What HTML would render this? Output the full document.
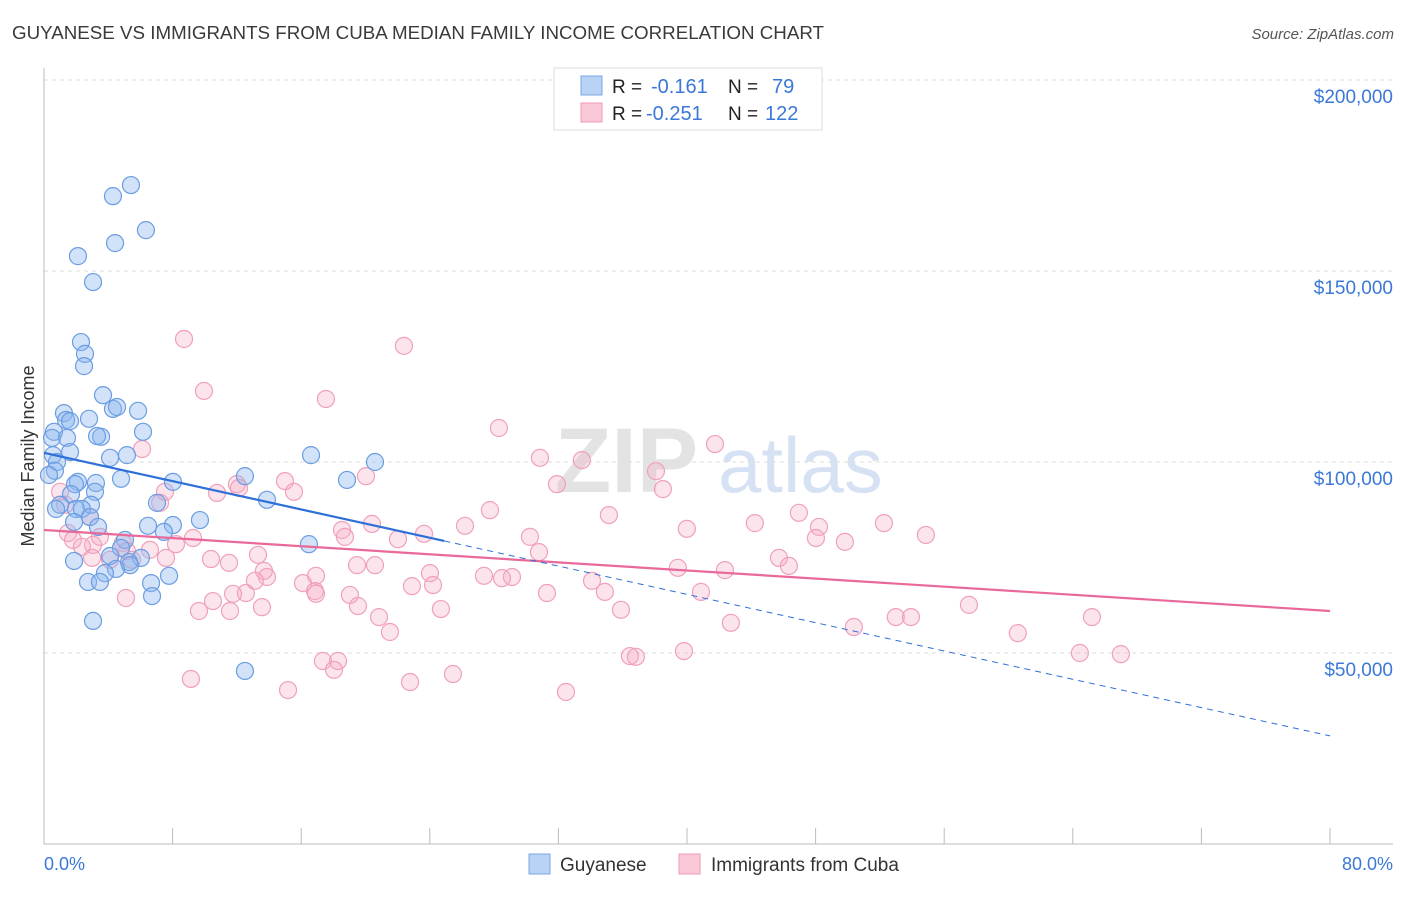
<!DOCTYPE html>
<html><head><meta charset="utf-8"><style>
body{margin:0;background:#fff;font-family:"Liberation Sans",sans-serif}
svg text{font-family:"Liberation Sans",sans-serif}
</style></head><body>
<svg id="chart" width="1406" height="892" xmlns="http://www.w3.org/2000/svg">
<text x="12" y="39" font-size="18" fill="#3a3a3a" textLength="812" lengthAdjust="spacingAndGlyphs">GUYANESE VS IMMIGRANTS FROM CUBA MEDIAN FAMILY INCOME CORRELATION CHART</text>
<text x="1394" y="39" font-size="15" fill="#555" font-style="italic" text-anchor="end">Source: ZipAtlas.com</text>
<g>
<text x="555" y="492" font-size="92" fill="#e3e3e3" font-family="Liberation Serif" font-weight="bold">ZIP</text>
<text x="718" y="492" font-size="78" fill="#d6e2f3">atlas</text>
</g>
<g id="grid"></g>
<g id="axes"></g>
<g id="pts"></g>
<g id="trend"></g>
<text transform="translate(34,456) rotate(-90)" font-size="18" fill="#333" text-anchor="middle">Median Family Income</text>
<text x="44" y="870" font-size="18" fill="#3b78d8">0.0%</text>
<text x="1393" y="870" font-size="18" fill="#3b78d8" text-anchor="end">80.0%</text>
<g>
<rect x="554" y="68" width="268" height="62" fill="#fff" stroke="#ddd"/>
<rect x="581" y="76" width="21" height="19" fill="#b9d3f5" stroke="#7ca7e6"/>
<rect x="581" y="103" width="21" height="19" fill="#fac8d7" stroke="#f09ab6"/>
<text x="612" y="93" font-size="19" fill="#222">R = </text><text x="651" y="93" font-size="20" fill="#3b78d8">-0.161</text>
<text x="728" y="93" font-size="19" fill="#222">N = </text><text x="772" y="93" font-size="20" fill="#3b78d8">79</text>
<text x="612" y="120" font-size="19" fill="#222">R = </text><text x="646" y="120" font-size="20" fill="#3b78d8">-0.251</text>
<text x="728" y="120" font-size="19" fill="#222">N = </text><text x="765" y="120" font-size="20" fill="#3b78d8">122</text>
</g>
<g>
<g><rect x="529" y="854" width="21" height="20" fill="#b9d3f5" stroke="#7ca7e6"/><text x="560" y="871" font-size="19" fill="#333">Guyanese</text></g>
<g><rect x="679" y="854" width="21" height="20" fill="#fac8d7" stroke="#f09ab6"/><text x="711" y="871" font-size="19" fill="#333">Immigrants from Cuba</text></g>
</g>
</svg>
<script>
const yTicks=[50000,100000,150000,200000];
const yTickLabels=["$50,000","$100,000","$150,000","$200,000"];
const xTicks=[0,8,16,24,32,40,48,56,64,72,80];
const guyX=[5.41,4.29,6.34,4.42,2.11,3.05,2.30,2.55,2.49,3.67,4.29,5.85,4.54,1.24,1.37,2.80,1.62,0.62,3.55,3.30,6.16,0.50,1.43,1.62,0.56,0.81,0.68,0.31,5.16,4.11,16.61,20.59,12.50,4.79,18.85,8.02,3.23,2.11,1.93,3.17,1.68,13.87,1.00,2.92,7.03,1.99,0.75,2.36,9.70,2.86,1.87,3.36,6.47,8.02,7.46,5.04,16.48,4.79,4.11,6.03,5.29,1.87,5.35,4.48,3.79,7.78,6.66,2.74,3.48,6.72,3.05,12.50];
const guyY=[172.5,169.6,160.7,157.3,153.9,147.1,131.4,128.3,125.1,117.5,113.9,113.4,114.4,112.8,111.0,111.3,110.7,107.9,106.6,106.8,107.9,106.3,106.3,102.6,101.8,100.0,97.7,96.6,101.8,101.1,101.8,100.0,96.3,95.6,95.3,94.8,94.5,94.8,94.2,92.2,91.6,90.1,88.8,88.8,89.3,87.7,87.7,87.7,84.8,85.6,84.3,83.0,83.3,83.5,81.7,79.6,78.5,77.5,75.4,74.9,73.8,74.1,73.0,72.0,70.9,70.2,68.3,68.6,68.6,64.9,58.4,45.3];
const cubaX=[8.71,22.39,9.95,17.54,28.30,41.74,6.10,30.85,33.46,20.03,38.07,31.91,12.00,14.99,12.13,15.55,7.53,10.76,38.50,7.22,27.74,35.14,20.40,26.19,18.54,23.64,30.23,39.99,44.22,46.96,48.21,52.25,54.86,48.02,49.82,22.02,18.72,1.00,1.31,2.86,1.49,1.80,3.05,3.48,4.91,6.59,5.16,8.21,9.27,2.36,13.31,10.39,7.59,2.99,4.11,11.51,5.47,45.72,46.34,19.47,20.59,30.79,29.11,27.37,28.49,24.01,39.43,42.36,13.68,13.87,13.12,16.92,16.11,22.89,24.20,16.86,16.92,12.56,34.09,34.89,40.87,19.03,5.10,11.76,31.29,10.51,13.56,9.64,19.53,24.69,35.89,11.57,20.84,42.73,21.52,50.38,52.99,53.93,57.54,65.19,60.58,36.45,36.82,39.81,64.44,66.99,17.35,18.29,18.04,9.14,25.44,15.18,22.77,32.47];
const cubaY=[132.2,130.4,118.6,116.5,108.9,104.7,103.4,101.1,100.5,96.3,97.6,94.2,94.2,95.0,93.2,92.2,92.2,91.9,92.9,89.3,87.4,86.1,83.8,83.3,82.2,81.2,80.4,82.5,84.0,86.7,83.0,84.0,80.9,80.1,79.1,79.8,80.4,92.2,88.8,85.6,81.4,79.6,78.3,80.4,78.8,77.0,76.7,78.5,80.1,77.8,75.7,74.6,74.9,74.9,74.4,73.6,74.4,74.9,72.8,73.0,73.0,76.4,69.9,70.2,69.6,70.9,72.3,71.7,71.5,69.9,68.9,70.2,68.3,67.5,67.8,66.2,65.5,65.7,68.9,66.0,66.0,65.2,64.4,65.5,65.7,63.6,62.0,61.0,62.3,61.5,61.3,61.0,59.4,57.9,55.5,56.8,59.4,59.4,62.6,59.4,55.2,49.2,49.0,50.5,50.0,49.7,47.9,47.9,45.6,43.2,44.5,40.3,42.4,39.8];
const guyTrend=[102.4,28.3];
const cubaTrend=[82.2,61.0];
const guySolidEnd=24.9;
const NS="http://www.w3.org/2000/svg";
const X0=44,X1=1330,Y0=844;
const sx=v=>X0+v/80*(X1-X0);
const sy=v=>Y0-v/50000*191;
function mk(tag,attrs,parent){const e=document.createElementNS(NS,tag);for(const k in attrs)e.setAttribute(k,attrs[k]);parent.appendChild(e);return e;}
const grid=document.getElementById('grid'),axes=document.getElementById('axes'),pts=document.getElementById('pts'),trend=document.getElementById('trend');
yTicks.forEach((t,i)=>{
  const l=mk('line',{x1:X0,x2:1393,y1:sy(t),y2:sy(t),stroke:'#ddd','stroke-dasharray':'4,4'},grid);
  
  
  const tx=mk('text',{x:1393,y:sy(t)+23,'font-size':19,fill:'#3b78d8','text-anchor':'end'},axes);
  tx.textContent=yTickLabels[i];
  
  
});
const ya=mk('line',{x1:X0,x2:X0,y1:68,y2:Y0,stroke:'#bbb'},axes);


const xa=mk('line',{x1:X0,x2:1393,y1:Y0,y2:Y0,stroke:'#bbb'},axes);


xTicks.forEach(t=>{
  const l=mk('line',{x1:sx(t),x2:sx(t),y1:828,y2:Y0,stroke:'#bbb'},axes);
  
  
});
cubaX.forEach((x,i)=>{
  const c=mk('circle',{cx:sx(x),cy:sy(cubaY[i]*1000),r:8.5,fill:'rgba(246,170,196,0.32)',stroke:'#f0a0bc','stroke-width':1.2},pts);
  
  
});
guyX.forEach((x,i)=>{
  const c=mk('circle',{cx:sx(x),cy:sy(guyY[i]*1000),r:8.5,fill:'rgba(140,182,240,0.4)',stroke:'#6b9de2','stroke-width':1.2},pts);
  
  
});
const gy=x=>guyTrend[0]+(guyTrend[1]-guyTrend[0])*x/80;
const pl=mk('line',{x1:sx(0),y1:sy(cubaTrend[0]*1000),x2:sx(80),y2:sy(cubaTrend[1]*1000),stroke:'#e8699a','stroke-width':2.2},trend);


const bl=mk('line',{x1:sx(0),y1:sy(gy(0)*1000),x2:sx(guySolidEnd),y2:sy(gy(guySolidEnd)*1000),stroke:'#2e6fd8','stroke-width':2.2},trend);


const bd=mk('line',{x1:sx(guySolidEnd),y1:sy(gy(guySolidEnd)*1000),x2:sx(80),y2:sy(gy(80)*1000),stroke:'#2e6fd8','stroke-width':1,'stroke-dasharray':'6,5'},trend);


</script>
</body></html>
